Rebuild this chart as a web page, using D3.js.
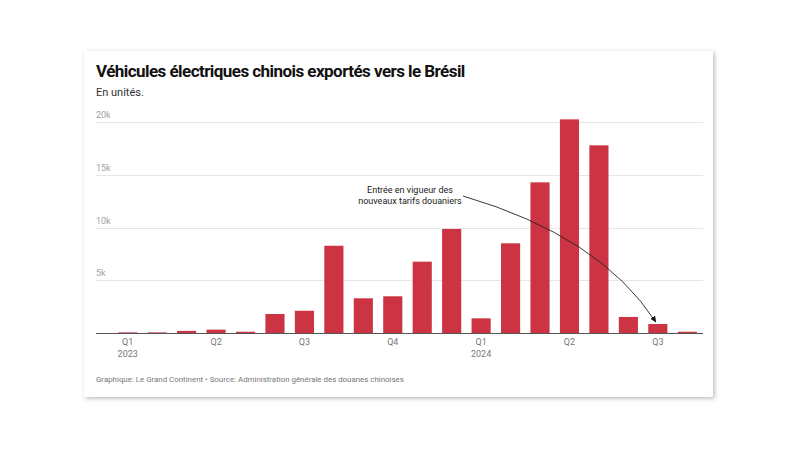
<!DOCTYPE html>
<html>
<head>
<meta charset="utf-8">
<script src="https://cdn.jsdelivr.net/npm/d3@7"></script>
<style>
  html, body { margin: 0; padding: 0; background: #ffffff; }
  svg { display: block; }
</style>
</head>
<body>
<svg id="chart" width="800" height="449"></svg>
<script>
// ---- Data ----
const months = ["2023-01","2023-02","2023-03","2023-04","2023-05","2023-06",
                "2023-07","2023-08","2023-09","2023-10","2023-11","2023-12",
                "2024-01","2024-02","2024-03","2024-04","2024-05","2024-06",
                "2024-07","2024-08"];
const units = [60, 60, 200, 320, 120, 1800, 2110, 8270, 3290, 3480, 6760, 9860,
               1390, 8500, 14280, 20250, 17790, 1520, 850, 120];
const quarterTicks = ["2023-01","2023-04","2023-07","2023-10","2024-01","2024-04","2024-07"];
const quarterLabels = ["Q1","Q2","Q3","Q4","Q1","Q2","Q3"];
const yearLabels = ["2023","","","","2024","",""];
const yTicks = [5000, 10000, 15000, 20000];
const yTickLabels = ["5k","10k","15k","20k"];

const title = "Véhicules électriques chinois exportés vers le Brésil";
const subtitle = "En unités.";
const annotation = ["Entrée en vigueur des", "nouveaux tarifs douaniers"];
const annotationTarget = "2024-07";
const footer = "Graphique: Le Grand Continent • Source: Administration générale des douanes chinoises";

// ---- Layout ----
const svg = d3.select("#chart");
const font = "Roboto, 'Noto Sans', sans-serif";
const card = {x: 84, y: 51, w: 629, h: 346};
const plot = {left: 96, right: 703, top: 122, bottom: 333};

const defs = svg.append("defs");
const f = defs.append("filter").attr("id", "shadow")
  .attr("x", "-5%").attr("y", "-5%").attr("width", "112%").attr("height", "115%");
f.append("feDropShadow").attr("dx", 1.5).attr("dy", 1.5).attr("stdDeviation", 2)
  .attr("flood-color", "#000").attr("flood-opacity", 0.28);

defs.append("marker").attr("id", "arrow")
  .attr("viewBox", "0 0 10 10").attr("refX", 9).attr("refY", 5)
  .attr("markerWidth", 7).attr("markerHeight", 7).attr("orient", "auto")
  .append("path").attr("d", "M0,0.5 L10,5 L0,9.5 Z").attr("fill", "#111");

svg.append("rect").attr("x", card.x).attr("y", card.y).attr("width", card.w).attr("height", card.h)
  .attr("fill", "#fff").attr("filter", "url(#shadow)");

// Title etc
svg.append("text").attr("x", 96).attr("y", 77).text(title)
  .attr("font-family", font).attr("font-weight", 700).attr("font-size", 17)
  .attr("letter-spacing", -0.55).attr("fill", "#111");
svg.append("text").attr("x", 96).attr("y", 96).text(subtitle)
  .attr("font-family", font).attr("font-size", 11).attr("fill", "#333");

// Scales
const x = d3.scaleBand().domain(months).range([113, 702]).paddingInner(0.35).paddingOuter(0.175);
const y = d3.scaleLinear().domain([0, 20000]).range([plot.bottom, plot.top]);

// Gridlines
const grid = svg.append("g");
grid.selectAll("line").data(yTicks).join("line")
  .attr("x1", plot.left).attr("x2", plot.right)
  .attr("y1", d => Math.round(y(d)) + 0.5).attr("y2", d => Math.round(y(d)) + 0.5)
  .attr("stroke", "#e6e6e6").attr("stroke-width", 1);
grid.selectAll("text").data(yTicks).join("text")
  .attr("x", plot.left).attr("y", d => y(d) - 4)
  .text((d, i) => yTickLabels[i])
  .attr("font-family", font).attr("font-size", 9).attr("fill", "#a0a0a0");

// Bars
svg.append("g").selectAll("rect").data(months).join("rect")
  .attr("x", d => x(d)).attr("width", x.bandwidth())
  .attr("y", (d, i) => y(units[i])).attr("height", (d, i) => y(0) - y(units[i]))
  .attr("fill", "#cd3443");

// Baseline
svg.append("line").attr("x1", plot.left).attr("x2", plot.right)
  .attr("y1", y(0) + 0.5).attr("y2", y(0) + 0.5)
  .attr("stroke", "#555").attr("stroke-width", 1);

// X axis labels
const xa = svg.append("g");
xa.selectAll("text.q").data(quarterTicks).join("text").attr("class", "q")
  .attr("x", d => x(d) + x.bandwidth() / 2).attr("y", 345)
  .attr("text-anchor", "middle").text((d, i) => quarterLabels[i])
  .attr("font-family", font).attr("font-size", 9).attr("fill", "#777");
xa.selectAll("text.yr").data(quarterTicks).join("text").attr("class", "yr")
  .attr("x", d => x(d) + x.bandwidth() / 2).attr("y", 357)
  .attr("text-anchor", "middle").text((d, i) => yearLabels[i])
  .attr("font-family", font).attr("font-size", 9).attr("fill", "#777");

// Annotation
const ann = svg.append("g");
ann.selectAll("text").data(annotation).join("text")
  .attr("x", 410).attr("y", (d, i) => 193 + i * 11)
  .attr("text-anchor", "middle").text(d => d)
  .attr("font-family", font).attr("font-size", 9).attr("fill", "#222");
const ti = months.indexOf(annotationTarget);
const tx = x(annotationTarget) + x.bandwidth() / 2 - 2;
const ty = y(units[ti]) - 2;
const sx = 463, sy = 196;
ann.append("path")
  .attr("d", `M${sx},${sy} Q${600},${236} ${tx},${ty}`)
  .attr("fill", "none").attr("stroke", "#222").attr("stroke-width", 0.9)
  .attr("marker-end", "url(#arrow)");

// Footer
svg.append("text").attr("x", 96).attr("y", 382).text(footer)
  .attr("font-family", font).attr("font-size", 7.9).attr("fill", "#777");
</script>
</body>
</html>
